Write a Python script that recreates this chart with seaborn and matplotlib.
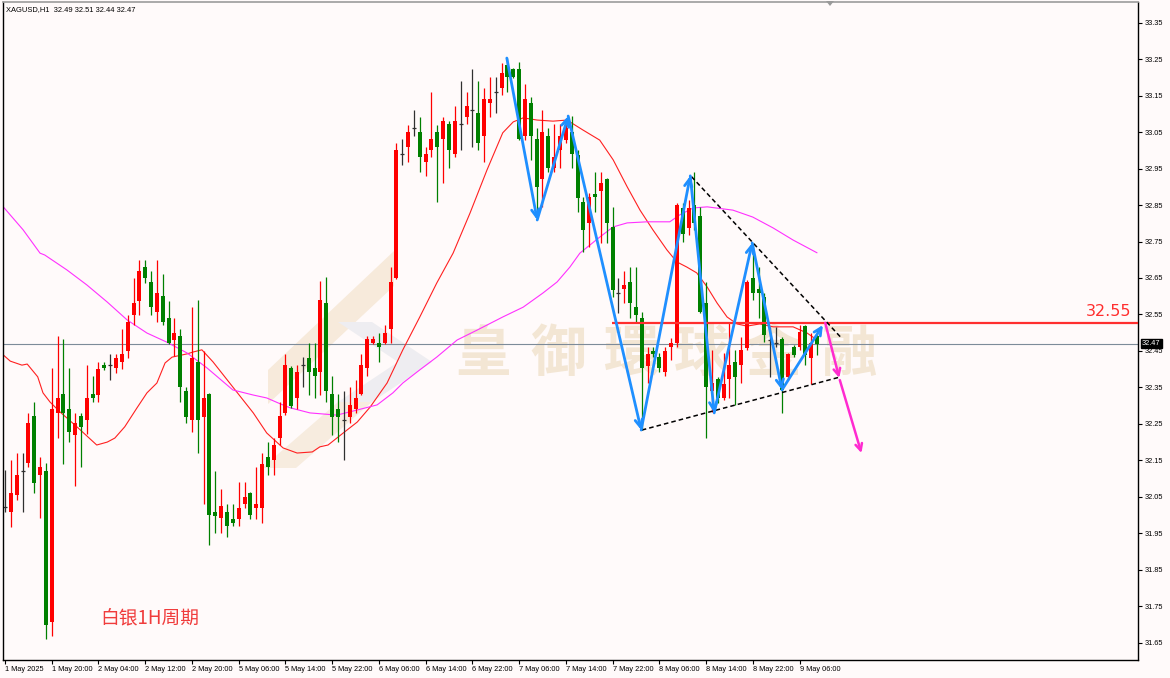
import numpy as np
import matplotlib
matplotlib.use("Agg")
import matplotlib.pyplot as plt
import matplotlib.transforms as mtransforms
from matplotlib.patches import Polygon
import seaborn as sns

# ---------------- data ----------------
symbol_title = "XAGUSD,H1  32.49 32.51 32.44 32.47"
time_labels = ["1 May 2025", "1 May 20:00", "2 May 04:00", "2 May 12:00", "2 May 20:00",
               "5 May 06:00", "5 May 14:00", "5 May 22:00", "6 May 06:00", "6 May 14:00",
               "6 May 22:00", "7 May 06:00", "7 May 14:00", "7 May 22:00", "8 May 06:00",
               "8 May 14:00", "8 May 22:00", "9 May 06:00"]
label_every = 8

opens = [32.022, 32.008, 32.055, 32.121, 32.143, 32.272, 32.110, 32.121, 31.707, 32.280,
         32.332, 32.291, 32.219, 32.272, 32.261, 32.332, 32.329, 32.411, 32.411, 32.403,
         32.420, 32.450, 32.548, 32.587, 32.680, 32.639, 32.557, 32.601, 32.540, 32.480,
         32.491, 32.340, 32.261, 32.420, 32.269, 32.332, 32.008, 31.992, 32.008, 31.989,
         31.989, 32.030, 32.060, 32.019, 32.019, 32.159, 32.151, 32.211, 32.280, 32.403,
         32.321, 32.411, 32.431, 32.403, 32.392, 32.581, 32.332, 32.291, 32.261, 32.269,
         32.291, 32.332, 32.403, 32.472, 32.472, 32.472, 32.510, 32.650, 32.990, 33.009,
         33.061, 33.050, 32.968, 33.001, 33.050, 33.031, 33.072, 32.990, 33.072, 33.091,
         33.111, 33.102, 33.039, 33.130, 33.160, 33.171, 33.234, 33.223, 33.223, 33.039,
         33.130, 33.031, 32.921, 33.039, 32.952, 33.001, 33.028, 33.050, 32.987, 32.858,
         32.801, 32.880, 32.888, 32.921, 32.790, 32.609, 32.620, 32.639, 32.570, 32.540,
         32.409, 32.450, 32.433, 32.392, 32.461, 32.472, 32.842, 32.787, 32.850, 32.820,
         32.581, 32.340, 32.373, 32.321, 32.373, 32.420, 32.411, 32.458, 32.650, 32.620,
         32.598, 32.480, 32.472, 32.483, 32.379, 32.461, 32.461, 32.518, 32.431, 32.490]
highs = [32.124, 32.151, 32.170, 32.170, 32.280, 32.310, 32.159, 32.143, 32.403, 32.491,
         32.483, 32.403, 32.280, 32.280, 32.411, 32.381, 32.420, 32.420, 32.442, 32.442,
         32.510, 32.548, 32.650, 32.699, 32.699, 32.669, 32.699, 32.661, 32.587, 32.540,
         32.510, 32.351, 32.570, 32.590, 32.450, 32.335, 32.121, 32.071, 32.030, 32.030,
         32.091, 32.091, 32.063, 32.132, 32.170, 32.200, 32.211, 32.310, 32.442, 32.408,
         32.411, 32.433, 32.472, 32.472, 32.642, 32.653, 32.381, 32.332, 32.340, 32.351,
         32.370, 32.442, 32.491, 32.491, 32.499, 32.521, 32.680, 33.020, 33.031, 33.069,
         33.111, 33.091, 33.009, 33.160, 33.069, 33.091, 33.080, 33.122, 33.190, 33.160,
         33.223, 33.190, 33.171, 33.201, 33.201, 33.239, 33.253, 33.226, 33.242, 33.182,
         33.146, 33.061, 33.111, 33.061, 33.072, 33.072, 33.083, 33.094, 33.001, 32.872,
         32.883, 32.941, 32.941, 32.924, 32.845, 32.650, 32.669, 32.680, 32.680, 32.557,
         32.461, 32.461, 32.444, 32.461, 32.486, 32.856, 32.856, 32.864, 32.941, 32.845,
         32.639, 32.453, 32.378, 32.444, 32.527, 32.453, 32.488, 32.644, 32.746, 32.680,
         32.609, 32.516, 32.516, 32.488, 32.444, 32.466, 32.521, 32.521, 32.499, 32.510]
lows = [32.008, 31.967, 32.041, 32.008, 32.132, 32.060, 31.992, 31.660, 31.668, 32.211,
        32.140, 32.200, 32.080, 32.132, 32.222, 32.310, 32.310, 32.398, 32.370, 32.389,
        32.400, 32.431, 32.521, 32.548, 32.636, 32.548, 32.529, 32.521, 32.469, 32.436,
        32.310, 32.252, 32.228, 32.170, 32.030, 31.918, 31.951, 31.951, 31.940, 31.970,
        31.970, 32.019, 31.989, 31.989, 31.978, 32.110, 32.110, 32.192, 32.275, 32.294,
        32.291, 32.351, 32.329, 32.321, 32.329, 32.310, 32.219, 32.200, 32.151, 32.252,
        32.280, 32.329, 32.381, 32.470, 32.420, 32.470, 32.472, 32.648, 32.960, 32.968,
        33.039, 32.941, 32.930, 32.982, 32.858, 32.910, 32.952, 32.982, 33.001, 33.072,
        33.009, 33.001, 32.968, 33.091, 33.102, 33.152, 33.160, 33.198, 33.028, 33.028,
        32.974, 32.815, 32.845, 32.941, 32.941, 32.952, 33.020, 32.952, 32.831, 32.721,
        32.735, 32.831, 32.746, 32.746, 32.598, 32.554, 32.581, 32.540, 32.529, 32.233,
        32.362, 32.433, 32.392, 32.381, 32.425, 32.461, 32.749, 32.768, 32.782, 32.554,
        32.211, 32.283, 32.307, 32.315, 32.321, 32.302, 32.362, 32.453, 32.590, 32.540,
        32.474, 32.379, 32.461, 32.280, 32.370, 32.433, 32.453, 32.411, 32.359, 32.440]
closes = [32.022, 32.060, 32.110, 32.121, 32.252, 32.088, 32.132, 31.698, 32.291, 32.321,
          32.280, 32.228, 32.252, 32.241, 32.321, 32.321, 32.400, 32.403, 32.411, 32.431,
          32.442, 32.529, 32.581, 32.669, 32.650, 32.570, 32.609, 32.529, 32.472, 32.499,
          32.351, 32.269, 32.431, 32.261, 32.321, 32.000, 31.997, 32.025, 31.970, 31.978,
          32.019, 32.049, 32.000, 32.030, 32.140, 32.132, 32.192, 32.272, 32.411, 32.299,
          32.392, 32.411, 32.392, 32.381, 32.590, 32.340, 32.269, 32.269, 32.261, 32.302,
          32.321, 32.411, 32.483, 32.483, 32.461, 32.499, 32.639, 33.001, 32.990, 33.050,
          33.061, 32.982, 32.990, 33.031, 33.009, 33.080, 33.001, 33.080, 33.072, 33.122,
          33.111, 33.020, 33.141, 33.141, 33.160, 33.212, 33.201, 33.201, 33.031, 33.141,
          33.039, 32.899, 33.050, 32.952, 32.982, 33.039, 33.061, 32.990, 32.869, 32.782,
          32.872, 32.872, 32.910, 32.801, 32.617, 32.609, 32.631, 32.581, 32.548, 32.403,
          32.442, 32.442, 32.403, 32.450, 32.472, 32.850, 32.771, 32.842, 32.801, 32.557,
          32.351, 32.362, 32.321, 32.359, 32.411, 32.379, 32.453, 32.639, 32.609, 32.609,
          32.494, 32.480, 32.472, 32.343, 32.442, 32.439, 32.502, 32.439, 32.472, 32.470]

ma_fast_bar = [-0.3, 0.9, 2.9, 3.8, 5.6, 6.5, 7.7, 9.4, 12.3, 14.0, 15.7, 17.5, 18.8, 20.5,
               22.6, 24.3, 26.0, 27.4, 28.6, 31.2, 32.2, 33.7, 35.6, 39.0, 42.5, 44.8, 47.6,
               50.0, 52.6, 53.9, 55.3, 57.9, 60.3, 62.5, 65.4, 68.1, 71.0, 73.9, 76.7, 79.6,
               82.5, 85.2, 87.0, 88.7, 91.1, 93.8, 96.2, 98.9, 101.8, 104.1, 106.5, 108.7,
               110.9, 113.3, 115.0, 116.7, 118.4, 120.2, 121.9, 123.6, 125.3, 127.0, 129.2,
               131.5, 134.9, 137.3, 139.0]
ma_fast_val = [32.439, 32.422, 32.411, 32.414, 32.379, 32.335, 32.310, 32.283, 32.242, 32.217,
               32.192, 32.200, 32.211, 32.242, 32.294, 32.335, 32.362, 32.417, 32.433, 32.442,
               32.447, 32.453, 32.420, 32.351, 32.280, 32.225, 32.184, 32.170, 32.173, 32.187,
               32.192, 32.225, 32.255, 32.296, 32.362, 32.453, 32.543, 32.636, 32.718, 32.828,
               32.946, 33.048, 33.078, 33.089, 33.083, 33.080, 33.083, 33.056, 33.028, 32.974,
               32.900, 32.836, 32.782, 32.727, 32.694, 32.680, 32.664, 32.625, 32.581, 32.543,
               32.524, 32.518, 32.524, 32.516, 32.516, 32.499, 32.480]
ma_slow_bar = [-0.3, 3.1, 6.0, 6.8, 10.6, 14.0, 17.5, 20.9, 24.3, 27.7, 31.2, 34.6, 39.0, 42.5,
               44.8, 47.1, 48.8, 52.2, 56.8, 60.3, 63.7, 66.4, 68.1, 71.0, 73.9, 77.4, 80.8,
               85.2, 88.7, 92.1, 94.5, 96.7, 98.4, 101.8, 104.1, 106.5, 109.9, 113.8, 115.5,
               117.8, 120.2, 124.6, 128.0, 131.5, 134.9, 139.0]
ma_slow_val = [32.845, 32.782, 32.718, 32.713, 32.672, 32.631, 32.584, 32.535, 32.499, 32.474,
               32.444, 32.403, 32.343, 32.329, 32.321, 32.305, 32.294, 32.280, 32.274, 32.288,
               32.302, 32.335, 32.362, 32.398, 32.433, 32.480, 32.507, 32.543, 32.570, 32.609,
               32.639, 32.680, 32.718, 32.762, 32.790, 32.801, 32.804, 32.804, 32.823, 32.842,
               32.845, 32.836, 32.817, 32.787, 32.754, 32.719]

zigzag_bar = [85.9, 91.1, 96.4, 108.9, 117.3, 121.4, 127.9, 133.0, 140.0]
zigzag_val = [33.253, 32.809, 33.094, 32.233, 32.930, 32.280, 32.746, 32.343, 32.521]
upper_trend_bar = [117.5, 143.2]
upper_trend_val = [32.928, 32.485]
lower_trend_bar = [109.0, 142.6]
lower_trend_val = [32.233, 32.377]
forecast_bar = [140.4, 142.8, 142.9, 146.6]
forecast_val = [32.527, 32.376, 32.370, 32.170]

resistance_level = 32.526
resistance_text = "32.55"
resistance_from_bar = 103.9
last_price = 32.47
y_tick_labels = ["31.65", "31.75", "31.85", "31.95", "32.05", "32.15", "32.25", "32.35",
                 "32.45", "32.55", "32.65", "32.75", "32.85", "32.95", "33.05", "33.15",
                 "33.25", "33.35"]
note_text = "白银1H周期"
watermark_chars = ["皇", "御", "環", "球", "金", "融"]

# ---------------- style ----------------
sns.set_theme(style="white")
plt.rcParams["font.family"] = ["Liberation Sans", "DejaVu Sans"]
BG = "#fffafa"
UP = "#ff0000"
DOWN = "#008000"
DOJI = "#303030"

W, H = 1170, 678
fig = plt.figure(figsize=(W / 100, H / 100), dpi=100, facecolor=BG)
ax = fig.add_axes([3 / W, 1 - 660 / H, 1135 / W, 658 / H])
ax.set_facecolor(BG)

bar_px = 5.842
x_left = -2 / bar_px
ax.set_xlim(x_left, x_left + 1135 / bar_px)
ax.set_ylim(31.6025, 33.4067)


def fpx(x, y):
    return (x / W, 1 - y / H)


# watermark logo + text (decoration, behind everything)
logo_parts = [
    ([(268, 404), (268, 370), (394, 251), (394, 286)], "#f7eadb"),
    ([(338, 322), (372, 322), (432, 362), (372, 402), (338, 402), (398, 362)], "#eeedf1"),
    ([(262, 468), (296, 468), (372, 402), (338, 402)], "#f7ecdf"),
]
for pts, col in logo_parts:
    ax.add_patch(Polygon([fpx(*p) for p in pts], closed=True, transform=fig.transFigure,
                         facecolor=col, edgecolor="none", zorder=0.3, clip_on=False))
wm_centers = [483, 558, 631, 702, 774, 850]
for ch, cx in zip(watermark_chars, wm_centers):
    ax.text(*fpx(cx, 355), ch, transform=fig.transFigure, ha="center", va="center",
            fontsize=40, fontweight="bold", color="#f3e6d4",
            family=["Noto Sans CJK SC", "DejaVu Sans"], zorder=0.4)

# chart-shift marker at the top
fig.patches.append(Polygon([fpx(826, 1), fpx(834, 1), fpx(830, 6)], closed=True,
                           transform=fig.transFigure, facecolor="#9a9a9a",
                           edgecolor="none", zorder=10))

# current price line
ax.axhline(last_price, color="#7d8b99", lw=0.8, zorder=1)

# moving averages
sns.lineplot(x=ma_fast_bar, y=ma_fast_val, ax=ax, color="#ff2020", lw=0.8,
             estimator=None, sort=False, zorder=1.5)
sns.lineplot(x=ma_slow_bar, y=ma_slow_val, ax=ax, color="#ff30ff", lw=0.8,
             estimator=None, sort=False, zorder=1.5)

# candles
for i, (o, h, l, c) in enumerate(zip(opens, highs, lows, closes)):
    if c > o:
        col = UP
    elif c < o:
        col = DOWN
    else:
        col = DOJI
    ax.vlines(i, l, h, color=col, lw=0.9, zorder=2)
    if c == o:
        ax.hlines(o, i - 0.34, i + 0.34, color=col, lw=0.9, zorder=2)
    else:
        ax.bar(i, abs(c - o), bottom=min(o, c), width=0.68, color=col,
               edgecolor="none", linewidth=0, zorder=2.1)

# resistance line
ax.hlines(resistance_level, resistance_from_bar, ax.get_xlim()[1], color="#ff2e2e",
          lw=1.6, zorder=3)
ax.text(0.9945, resistance_level + 0.012, resistance_text,
        transform=mtransforms.blended_transform_factory(ax.transAxes, ax.transData),
        ha="right", va="bottom", fontsize=11.5, color="#ff2e2e", family="DejaVu Sans", zorder=4)

# trend lines (dashed)
ax.plot(upper_trend_bar, upper_trend_val, color="black", lw=1.1, ls=(0, (3, 2)), zorder=3)
ax.plot(lower_trend_bar, lower_trend_val, color="black", lw=1.1, ls=(0, (3, 2)), zorder=3)

# zigzag arrows
for k in range(len(zigzag_bar) - 1):
    ax.annotate("", xy=(zigzag_bar[k + 1], zigzag_val[k + 1]), xytext=(zigzag_bar[k], zigzag_val[k]),
                arrowprops=dict(arrowstyle="->,head_length=0.45,head_width=0.22", color="#1f8fff",
                                lw=2.0, shrinkA=0, shrinkB=0), zorder=4)
# forecast arrows
for k in (0, 2):
    ax.annotate("", xy=(forecast_bar[k + 1], forecast_val[k + 1]), xytext=(forecast_bar[k], forecast_val[k]),
                arrowprops=dict(arrowstyle="->,head_length=0.4,head_width=0.2", color="#ff2bd0",
                                lw=1.8, shrinkA=0, shrinkB=0), zorder=4)

# note
ax.text(*fpx(100, 618), note_text, transform=fig.transFigure, ha="left", va="center",
        fontsize=13.5, color="#f03c3c", family=["Noto Sans CJK SC", "DejaVu Sans"], zorder=5)
# title
ax.text(*fpx(6, 10), symbol_title, transform=fig.transFigure, ha="left", va="center",
        fontsize=5.4, color="black", zorder=5)

# axes / ticks
ax.yaxis.tick_right()
y_ticks = [float(t) for t in y_tick_labels]
ax.set_yticks(y_ticks)
ax.set_yticklabels(y_tick_labels)
ax.set_xticks(np.arange(len(time_labels)) * label_every)
ax.set_xticklabels(time_labels, ha="left")
ax.tick_params(axis="y", direction="out", length=3, width=0.8, pad=2, labelsize=5.3,
               colors="black", right=True, left=False)
ax.tick_params(axis="x", direction="out", length=3, width=0.8, pad=1.5, labelsize=5.3,
               colors="black", bottom=True)
for lab in ax.get_xticklabels():
    lab.set_horizontalalignment("left")
for side in ["left", "bottom", "right"]:
    ax.spines[side].set_color("black")
    ax.spines[side].set_linewidth(1.0)
ax.spines["top"].set_color("#a0a0a0")
ax.set_xlabel("")
ax.set_ylabel("")
ax.grid(False)

# last price tag
ax.text(1.0035, last_price, f"{last_price:.2f}",
        transform=mtransforms.blended_transform_factory(ax.transAxes, ax.transData),
        ha="left", va="center", fontsize=5.3, color="white", zorder=6, clip_on=False,
        bbox=dict(facecolor="black", edgecolor="black", pad=0.8))

fig.savefig("out.png", dpi=100, facecolor=BG)
